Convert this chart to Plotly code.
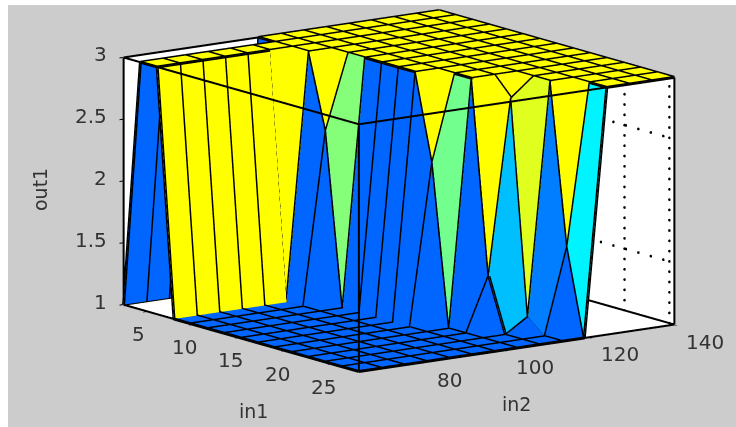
import plotly.graph_objects as go

in1_grid = [2.5,4.32,6.14,7.96,9.79,11.61,13.43,15.25,17.07,18.89,20.71,22.54,24.36,26.18,28.0]
in2_grid = [66,71.29,76.57,81.86,87.14,92.43,97.71,103,108.29,113.57,118.86,124.14,129.43,134.71,140]
out1 = [
 [1,1,1,1,1,1,3,3,3,3,3,3,3,3,3],
 [3,3,3,3,3,3,3,3,3,3,3,3,3,3,3],
 [3,3,3,3,3,3,3,3,3,3,3,3,3,3,3],
 [1,1,1,1,1,1,3,3,3,3,3,3,3,3,3],
 [1,1,1,1,1,1,2.4,3,3,3,3,3,3,3,3],
 [1,1,1,1,1,1,1,3,3,3,3,3,3,3,3],
 [1,1,1,1,1,1,1,3,3,3,3,3,3,3,3],
 [1,1,1,1,1,1,1,3,3,3,3,3,3,3,3],
 [1,1,1,1,1,1,1,3,3,3,3,3,3,3,3],
 [1,1,1,1,1,1,1,2.31,3,3,3,3,3,3,3],
 [1,1,1,1,1,1,1,1,3,3,3,3,3,3,3],
 [1,1,1,1,1,1,1,1,1.44,2.85,3,3,3,3,3],
 [1,1,1,1,1,1,1,1,1,1.12,3,3,3,3,3],
 [1,1,1,1,1,1,1,1,1,1,1.7,3,3,3,3],
 [1,1,1,1,1,1,1,1,1,1,1,3,3,3,3],
]
in1_ticks = [5,10,15,20,25]
in2_ticks = [80,100,120,140]
out1_ticks = [1,1.5,2,2.5,3]
in1_box = [2.5,28]
in2_box = [66,140]
out1_box = [1,3]
wall_in1_grid = [22.6,27.46]
wall_out1_grid = [1.5,2.5]
colorscale = [[0,"rgb(0,102,255)"],[0.375,"rgb(0,255,255)"],[1,"rgb(255,255,0)"]]

n_i, n_j = len(in1_grid), len(in2_grid)
vx, vy, vz = [], [], []
for i in range(n_i):
    for j in range(n_j):
        vx.append(in1_grid[i]); vy.append(in2_grid[j]); vz.append(out1[i][j])
idx = lambda i,j: i*n_j+j
ti, tj, tk, cell = [], [], [], []
for i in range(n_i-1):
    for j in range(n_j-1):
        a,b,c,d = idx(i,j),idx(i+1,j),idx(i+1,j+1),idx(i,j+1)
        ti += [a,a]; tj += [b,c]; tk += [c,d]
        cell += [out1[i][j]]*2

fig = go.Figure()
fig.add_trace(go.Mesh3d(x=vx,y=vy,z=vz,i=ti,j=tj,k=tk,intensity=cell,intensitymode="cell",
    colorscale=colorscale,cmin=1,cmax=3,showscale=False,flatshading=True,
    lighting=dict(ambient=1,diffuse=0,specular=0,roughness=1,fresnel=0),hoverinfo="skip"))

# black mesh lines
lx,ly,lz=[],[],[]
for i in range(n_i):
    for j in range(n_j):
        lx.append(in1_grid[i]);ly.append(in2_grid[j]);lz.append(out1[i][j])
    lx.append(None);ly.append(None);lz.append(None)
for j in range(n_j):
    for i in range(n_i):
        lx.append(in1_grid[i]);ly.append(in2_grid[j]);lz.append(out1[i][j])
    lx.append(None);ly.append(None);lz.append(None)
fig.add_trace(go.Scatter3d(x=lx,y=ly,z=lz,mode="lines",line=dict(color="black",width=6),hoverinfo="skip",showlegend=False))

# box edges
x0,x1=in1_box; y0,y1=in2_box; z0,z1=out1_box
ex,ey,ez=[],[],[]
for p,q in [((x0,y0,z0),(x1,y0,z0)),((x1,y0,z0),(x1,y1,z0)),((x1,y1,z0),(x0,y1,z0)),((x0,y1,z0),(x0,y0,z0)),
            ((x0,y0,z1),(x1,y0,z1)),((x1,y0,z1),(x1,y1,z1)),((x1,y1,z1),(x0,y1,z1)),((x0,y1,z1),(x0,y0,z1)),
            ((x0,y0,z0),(x0,y0,z1)),((x1,y0,z0),(x1,y0,z1)),((x1,y1,z0),(x1,y1,z1)),((x0,y1,z0),(x0,y1,z1))]:
    ex+=[p[0],q[0],None];ey+=[p[1],q[1],None];ez+=[p[2],q[2],None]
fig.add_trace(go.Scatter3d(x=ex,y=ey,z=ez,mode="lines",line=dict(color="black",width=4),hoverinfo="skip",showlegend=False))

# dotted wall grid, drawn as dots on the in2 = max wall
gx,gy,gz=[],[],[]
for xv in wall_in1_grid:
    for k in range(25):
        gx.append(xv);gy.append(y1);gz.append(z0+k*0.0833)
for zv in wall_out1_grid:
    for k in range(19):
        gx.append(x0+k*1.35);gy.append(y1);gz.append(zv)
fig.add_trace(go.Scatter3d(x=gx,y=gy,z=gz,mode="markers",marker=dict(color="black",size=1.6,line=dict(width=0)),hoverinfo="skip",showlegend=False))

font=dict(family="DejaVu Sans",size=19,color="#333333")
tick_font=dict(family="DejaVu Sans",size=20,color="#333333")
pad=dict(x=0.04,y=0.1,z=0.004)
def ax(rng,ticks,p,tl):
    return dict(range=[rng[0]-p,rng[1]+p],tickvals=ticks,ticktext=[" " for _ in ticks],showticklabels=True,
                tickfont=dict(size=1,color="rgba(0,0,0,0)"),title=dict(text=""),
                showgrid=False,zeroline=False,showline=False,ticks="outside",ticklen=tl,tickcolor="black",tickwidth=2,
                showbackground=True,backgroundcolor="white",showspikes=False)
tick_notes=[]
for t in in1_ticks:
    tick_notes.append(dict(x=t,y=y0,z=z0,text=str(t),showarrow=False,xshift=-8,yshift=-23,font=tick_font))
for t in in2_ticks:
    tick_notes.append(dict(x=x1,y=t,z=z0,text=str(t),showarrow=False,xshift=31,yshift=-17,font=tick_font))
for t in out1_ticks:
    tick_notes.append(dict(x=x0,y=y0,z=t,text=str(t),showarrow=False,xanchor="right",xshift=-15,yshift=3,font=tick_font))
W,H=728,422
s=1.908
e=4
cz=-0.121
fig.update_layout(width=W,height=H,margin=dict(l=0,r=0,t=0,b=0),paper_bgcolor="white",showlegend=False,
    scene=dict(domain=dict(x=[54/W,1],y=[0,1]),
        xaxis=ax(in1_box,in1_ticks,pad["x"],4),yaxis=ax(in2_box,in2_ticks,pad["y"],4),zaxis=ax(out1_box,out1_ticks,pad["z"],6),
        aspectmode="manual",aspectratio=dict(x=1*s,y=0.97*s,z=0.63*s),
        annotations=tick_notes,
        camera=dict(projection=dict(type="orthographic"),up=dict(x=0,y=0,z=1),
            eye=dict(x=0.7927*e,y=-0.5739*e,z=0.2055*e+cz),center=dict(x=0,y=0,z=cz))),
    shapes=[dict(type="rect",xref="paper",yref="paper",x0=0,x1=1,y0=0,y1=1,fillcolor="#cccccc",line=dict(width=0),layer="below")],
    annotations=[
      dict(text="in1",xref="paper",yref="paper",x=(253-8)/W,y=1-(411-5)/H,xanchor="center",yanchor="middle",showarrow=False,font=font),
      dict(text="in2",xref="paper",yref="paper",x=(516-8)/W,y=1-(404-5)/H,xanchor="center",yanchor="middle",showarrow=False,font=font),
      dict(text="out1",xref="paper",yref="paper",x=(40-8)/W,y=1-(190-5)/H,xanchor="center",yanchor="middle",showarrow=False,font=font,textangle=-90),
    ])
fig.write_html("out.html",post_script="document.body.style.margin='5px 0 0 8px';document.body.style.overflow='hidden';")
